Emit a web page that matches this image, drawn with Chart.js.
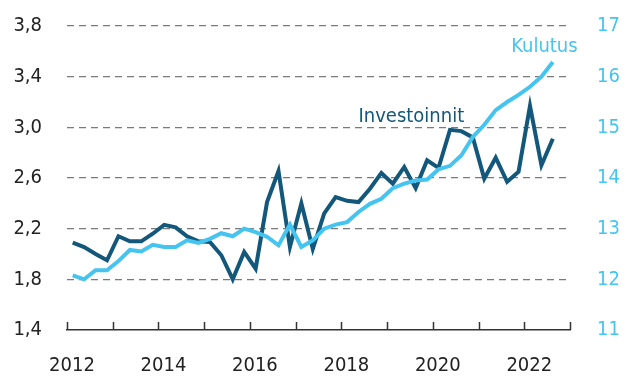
<!DOCTYPE html>
<html>
<head>
<meta charset="utf-8">
<script src="https://cdn.jsdelivr.net/npm/chart.js@4/dist/chart.umd.min.js"></script>
<style>
  body { margin: 0; background: #fff; }
  canvas { display: block; }
</style>
</head>
<body>
<canvas id="myChart" width="627" height="378"></canvas>
<script>
const ctx = document.getElementById('myChart').getContext('2d');

// quarterly data 2012Q1 - 2022Q3
const quarters = Array.from({ length: 43 }, (_, i) => `${2012 + Math.floor(i / 4)}Q${i % 4 + 1}`);

// left axis
const investoinnit = [
    2.09, 2.055, 2.0, 1.95, 2.14, 2.10, 2.10, 2.16, 2.23, 2.21, 2.14, 2.10,
    2.095, 1.99, 1.80, 2.016, 1.884, 2.41, 2.655, 2.055, 2.40, 2.04, 2.32, 2.45,
    2.42, 2.41, 2.515, 2.64, 2.555, 2.687, 2.52, 2.74, 2.68, 2.98, 2.97, 2.92,
    2.595, 2.76, 2.57, 2.65, 3.17, 2.70, 2.91
];

// right axis
const kulutus = [
    12.08, 12.0, 12.18, 12.18, 12.36, 12.58, 12.55, 12.68, 12.64, 12.64, 12.77, 12.72,
    12.80, 12.91, 12.85, 13.0, 12.93, 12.84, 12.67, 13.08, 12.64, 12.77, 13.0, 13.08,
    13.13, 13.33, 13.49, 13.59, 13.80, 13.89, 13.95, 13.97, 14.17, 14.24, 14.45, 14.81,
    15.05, 15.34, 15.50, 15.64, 15.80, 16.0, 16.29
];

const darkBlue = '#13587a';
const lightBlue = '#45c4f0';
const font = '"DejaVu Sans Condensed", "Liberation Sans Narrow", sans-serif';
const fontSize = 20;

// quarter label -> position on a year axis (middle of the quarter)
const toX = (q) => Number(q.slice(0, 4)) + (Number(q.slice(5)) - 0.5) / 4;
const points = (values) => values.map((v, i) => ({ x: toX(quarters[i]), y: v }));

const decimal = (v) => v.toFixed(1).replace('.', ',');

// fixed side width, no extra room reserved for half labels
const fitSide = (w) => (s) => {
    s.width = w;
    s.paddingTop = 0;
    s.paddingBottom = 0;
};

// small tick marks pointing up from the x axis
const upTicks = {
    id: 'upTicks',
    afterDraw(chart) {
        const x = chart.scales.x;
        const c = chart.ctx;
        const bottom = chart.chartArea.bottom;
        c.save();
        c.strokeStyle = '#333';
        c.lineWidth = 1.5;
        x.ticks.forEach((t) => {
            const px = Math.round(x.getPixelForValue(t.value)) + 0.5;
            c.beginPath();
            c.moveTo(px, bottom);
            c.lineTo(px, bottom - 8);
            c.stroke();
        });
        c.restore();
    }
};

// series names next to the lines
const seriesLabels = {
    id: 'seriesLabels',
    afterDatasetsDraw(chart) {
        const { x, y, y2 } = chart.scales;
        const c = chart.ctx;
        c.save();
        c.font = fontSize + 'px ' + font;
        c.textAlign = 'center';
        c.textBaseline = 'alphabetic';
        c.fillStyle = darkBlue;
        c.fillText('Investoinnit', x.getPixelForValue(2019.53), y.getPixelForValue(3.04));
        c.fillStyle = lightBlue;
        c.fillText('Kulutus', x.getPixelForValue(2022.44), y2.getPixelForValue(16.49));
        c.restore();
    }
};

const config = {
    type: 'line',
    data: {
        datasets: [
            {
                label: 'Kulutus',
                data: points(kulutus),
                yAxisID: 'y2',
                borderColor: lightBlue,
                borderWidth: 4,
                pointRadius: 0,
                tension: 0
            },
            {
                label: 'Investoinnit',
                data: points(investoinnit),
                yAxisID: 'y',
                borderColor: darkBlue,
                borderWidth: 4,
                pointRadius: 0,
                tension: 0
            }
        ]
    },
    options: {
        responsive: false,
        animation: false,
        layout: { padding: { top: 26, left: 0, right: 0, bottom: 0 } },
        plugins: {
            legend: { display: false },
            tooltip: { enabled: false }
        },
        scales: {
            x: {
                type: 'linear',
                min: 2012,
                max: 2023,
                afterFit: (s) => {
                    s.height = 48;
                    s.paddingLeft = 0;
                    s.paddingRight = 0;
                },
                ticks: {
                    stepSize: 1,
                    autoSkip: false,
                    maxRotation: 0,
                    padding: 24,
                    labelOffset: 5,
                    color: '#222',
                    font: { family: font, size: fontSize },
                    callback: (v) => (v % 2 === 0 && v < 2023 ? String(v) : '')
                },
                grid: { drawOnChartArea: false, drawTicks: false },
                border: { color: '#333', width: 1.5 }
            },
            y: {
                position: 'left',
                min: 1.4,
                max: 3.8,
                afterFit: fitSide(67),
                ticks: {
                    stepSize: 0.4,
                    padding: 25,
                    color: '#222',
                    font: { family: font, size: fontSize },
                    callback: (v) => decimal(v)
                },
                grid: {
                    drawTicks: false,
                    color: (c) => (c.tick.value <= 1.4 ? 'rgba(0,0,0,0)' : '#7a7a7a'),
                    lineWidth: 1.3
                },
                border: { display: false, dash: [7, 5] }
            },
            y2: {
                position: 'right',
                min: 11,
                max: 17,
                afterFit: fitSide(57),
                ticks: {
                    stepSize: 1,
                    padding: 27,
                    color: lightBlue,
                    font: { family: font, size: fontSize }
                },
                grid: { drawOnChartArea: false, drawTicks: false },
                border: { display: false }
            }
        }
    },
    plugins: [upTicks, seriesLabels]
};

const chart = new Chart(ctx, config);
</script>
</body>
</html>
